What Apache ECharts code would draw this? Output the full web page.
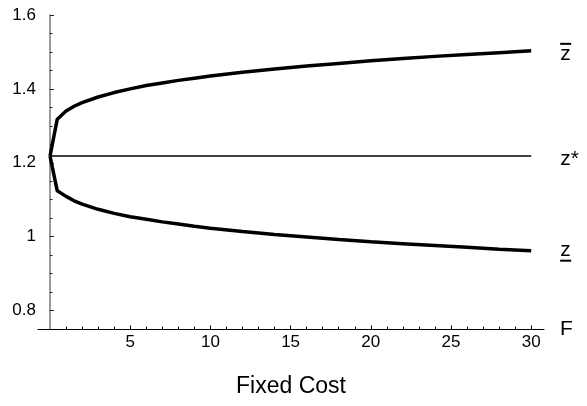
<!DOCTYPE html>
<html>
<head>
<meta charset="utf-8">
<script src="https://cdn.jsdelivr.net/npm/echarts@6/dist/echarts.min.js"></script>
<style>
  html, body { margin: 0; padding: 0; background: #ffffff; }
  #chart { width: 587px; height: 406px; }
</style>
</head>
<body>
<div id="chart"></div>
<script>
// Fixed cost F and the band edges around the target z*
const fixedCost = [0, 0.45, 1, 1.5, 2, 3, 4, 5, 6, 7, 8, 9, 10, 12, 14, 16, 18, 20, 22, 24, 26, 28, 30];
const zUpper = [1.218, 1.318, 1.340, 1.353, 1.363, 1.378, 1.390, 1.400, 1.409, 1.416, 1.423, 1.429, 1.435,
                1.445, 1.454, 1.462, 1.469, 1.476, 1.482, 1.488, 1.493, 1.498, 1.503];
const zLower = [1.218, 1.124, 1.109, 1.097, 1.088, 1.074, 1.063, 1.054, 1.047, 1.040, 1.034, 1.028, 1.023,
                1.014, 1.006, 0.999, 0.992, 0.986, 0.981, 0.976, 0.971, 0.966, 0.962];
const zStarCost = [0, 30];
const zStar = [1.218, 1.218];

// Axis ticks
const xMajorTicks = [5, 10, 15, 20, 25, 30];
const xMinorTicks = [1, 2, 3, 4, 6, 7, 8, 9, 11, 12, 13, 14, 16, 17, 18, 19, 21, 22, 23, 24, 26, 27, 28, 29];
const yMajorTicks = [0.8, 1, 1.2, 1.4, 1.6];
const yMinorTicks = [0.85, 0.9, 0.95, 1.05, 1.1, 1.15, 1.25, 1.3, 1.35, 1.45, 1.5, 1.55];

const FONT = "'Liberation Sans', Arial, sans-serif";
const pairs = (xs, ys) => xs.map((x, i) => [x, ys[i]]);

const X_MIN = -0.75, X_MAX = 30.8, Y_MIN = 0.75, Y_MAX = 1.6;

const chart = echarts.init(document.getElementById('chart'), null, { renderer: 'canvas' });

const barStyle = { width: 11, height: 2, backgroundColor: '#000' };
const zStyle = { fontSize: 21, fontFamily: FONT, color: '#000', lineHeight: 16 };

chart.setOption({
  animation: false,
  backgroundColor: '#ffffff',
  grid: { left: 38, right: 43, top: 15, bottom: 77, containLabel: false },
  xAxis: [
    {
      type: 'value', min: X_MIN, max: X_MAX,
      name: 'F', nameLocation: 'end', nameGap: 16,
      nameTextStyle: { fontSize: 21, fontFamily: FONT, color: '#000' },
      axisLine: { onZero: false, lineStyle: { color: '#000', width: 1 } },
      axisTick: { show: true, inside: true, length: 2.5, customValues: xMinorTicks, lineStyle: { color: '#000', width: 1 } },
      axisLabel: { show: true, customValues: xMajorTicks, margin: 5, fontSize: 17, fontFamily: FONT, color: '#000' },
      splitLine: { show: false }
    },
    {
      type: 'value', min: X_MIN, max: X_MAX, position: 'bottom',
      name: 'Fixed Cost', nameLocation: 'middle', nameGap: 46,
      nameTextStyle: { fontSize: 23, fontFamily: FONT, color: '#000' },
      axisLine: { show: false, onZero: false },
      axisTick: { show: true, inside: true, length: 3.5, customValues: xMajorTicks, lineStyle: { color: '#000', width: 1 } },
      axisLabel: { show: false },
      splitLine: { show: false }
    }
  ],
  yAxis: [
    {
      type: 'value', min: Y_MIN, max: Y_MAX,
      axisLine: { onZero: true, lineStyle: { color: '#7a7a7a', width: 1.5 } },
      axisTick: { show: true, inside: true, length: 2.5, customValues: yMinorTicks, lineStyle: { color: '#222', width: 1 } },
      axisLabel: { show: true, customValues: yMajorTicks, margin: 2, fontSize: 17, fontFamily: FONT, color: '#000' },
      splitLine: { show: false }
    },
    {
      type: 'value', min: Y_MIN, max: Y_MAX, position: 'left',
      axisLine: { show: false, onZero: true },
      axisTick: { show: true, inside: true, length: 4, customValues: yMajorTicks, lineStyle: { color: '#222', width: 1 } },
      axisLabel: { show: false },
      splitLine: { show: false }
    }
  ],
  series: [
    {
      type: 'line', name: 'upper', data: pairs(fixedCost, zUpper), showSymbol: false,
      lineStyle: { color: '#000', width: 3.5 },
      endLabel: {
        show: true, distance: 29, offset: [0, 1],
        formatter: '{bar|}\n{z|z}',
        rich: { bar: Object.assign({ lineHeight: 4 }, barStyle), z: zStyle }
      }
    },
    {
      type: 'line', name: 'target', data: pairs(zStarCost, zStar), showSymbol: false,
      lineStyle: { color: '#000', width: 1.5 },
      endLabel: {
        show: true, distance: 29, offset: [0, 3],
        formatter: 'z*', fontSize: 21, fontFamily: FONT, color: '#000'
      }
    },
    {
      type: 'line', name: 'lower', data: pairs(fixedCost, zLower), showSymbol: false,
      lineStyle: { color: '#000', width: 3.5 },
      endLabel: {
        show: true, distance: 29, offset: [0, 2],
        formatter: '{z|z}\n{bar|}',
        rich: { bar: Object.assign({ lineHeight: 4 }, barStyle), z: zStyle }
      }
    }
  ]
});
</script>
</body>
</html>
